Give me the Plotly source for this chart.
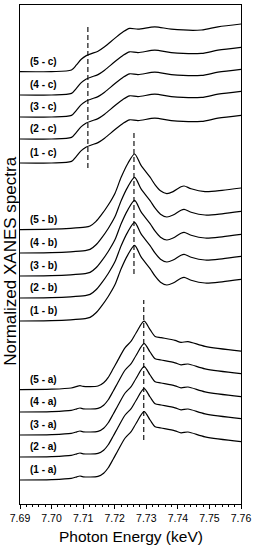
import plotly.graph_objects as go

# ---- data ----
energy_c = [7.690, 7.700, 7.7063, 7.7078, 7.7094, 7.7110, 7.7126, 7.7147, 7.7168,
            7.7200, 7.7226, 7.7247, 7.7274, 7.7327, 7.7379, 7.7474, 7.7527, 7.7600]
shape_c = [0.00, 0.00, 0.04, 0.16, 0.31, 0.40, 0.45, 0.51, 0.62,
           0.83, 0.99, 1.08, 1.06, 1.12, 1.06, 1.04, 1.12, 1.19]

energy_b = [7.690, 7.700, 7.706, 7.7106, 7.7122, 7.7140, 7.7157, 7.7180, 7.7201,
            7.7220, 7.7242, 7.7263, 7.7283, 7.7312, 7.7328, 7.7345, 7.7365, 7.7385,
            7.7410, 7.7420, 7.7442, 7.7486, 7.7540, 7.7600]
shape_b = [0.00, 0.01, 0.03, 0.06, 0.09, 0.20, 0.36, 0.62, 0.91,
           1.30, 1.66, 1.89, 1.61, 1.31, 1.12, 0.97, 0.90, 0.95,
           1.07, 1.09, 1.02, 0.95, 0.98, 1.04]

energy_a = [7.690, 7.700, 7.7062, 7.7080, 7.7090, 7.7100, 7.7147, 7.7165, 7.7179,
            7.7195, 7.7211, 7.7233, 7.7252, 7.7268, 7.7293, 7.7312, 7.7328, 7.7347,
            7.7391, 7.7410, 7.7432, 7.7486, 7.7600]
shape_a = [0.00, 0.01, 0.04, 0.08, 0.10, 0.08, 0.09, 0.17, 0.30,
           0.52, 0.75, 1.05, 1.21, 1.42, 1.71, 1.50, 1.33, 1.30,
           1.23, 1.18, 1.20, 1.08, 0.96]

labels_a = ["(1 - a)", "(2 - a)", "(3 - a)", "(4 - a)", "(5 - a)"]
labels_b = ["(1 - b)", "(2 - b)", "(3 - b)", "(4 - b)", "(5 - b)"]
labels_c = ["(1 - c)", "(2 - c)", "(3 - c)", "(4 - c)", "(5 - c)"]
offsets_a = [0.60, 1.175, 1.725, 2.30, 2.86]
offsets_b = [4.575, 5.15, 5.70, 6.275, 6.86]
offsets_c = [8.525, 9.125, 9.675, 10.225, 10.81]

# dashed markers: energy, y-start, y-end
edge_energy = [7.7292, 7.7261, 7.7115]
edge_y0 = [1.60, 5.75, 8.40]
edge_y1 = [5.10, 9.275, 11.925]

x_ticks = [7.69, 7.70, 7.71, 7.72, 7.73, 7.74, 7.75, 7.76]

FONT = "Arial, Liberation Sans, Helvetica, sans-serif"

fig = go.Figure()

groups = [(energy_a, shape_a, offsets_a, labels_a),
          (energy_b, shape_b, offsets_b, labels_b),
          (energy_c, shape_c, offsets_c, labels_c)]

for en, sh, offs, labs in groups:
    for off, lab in zip(offs, labs):
        fig.add_trace(go.Scatter(
            x=en, y=[v + off for v in sh], mode="lines",
            line=dict(color="black", width=1.2, shape="spline", smoothing=0.8),
            showlegend=False, hoverinfo="skip"))
        fig.add_annotation(x=7.6976, y=off + 0.26, xref="x", yref="y",
                           text="<b>" + lab + "</b>", showarrow=False,
                           font=dict(family=FONT, size=10, color="black"),
                           xanchor="center", yanchor="middle")

for e, y0, y1 in zip(edge_energy, edge_y0, edge_y1):
    fig.add_trace(go.Scatter(
        x=[e, e], y=[y0, y1], mode="lines",
        line=dict(color="black", width=1.1, dash="5px,3px"),
        showlegend=False, hoverinfo="skip"))

fig.add_annotation(x=-0.0407, y=0.4856, xref="paper", yref="paper",
                   text="Normalized XANES spectra", textangle=-90, showarrow=False,
                   font=dict(family=FONT, size=17, color="black"),
                   xanchor="center", yanchor="middle")
fig.add_annotation(x=0.5, y=-0.0661, xref="paper", yref="paper",
                   text="Photon Energy (keV)", showarrow=False,
                   font=dict(family=FONT, size=15.5, color="black"),
                   xanchor="center", yanchor="middle")

fig.update_layout(
    width=255, height=550,
    margin=dict(l=20, r=14, t=5, b=46),
    paper_bgcolor="white", plot_bgcolor="white",
    xaxis=dict(range=[7.69, 7.76], tickvals=x_ticks,
               ticktext=[f"{t:.2f}" for t in x_ticks],
               ticks="outside", ticklen=4, tickwidth=1, tickcolor="black",
               minor=dict(dtick=0.002, ticks="outside", ticklen=2, tickcolor="black"),
               showline=True, linecolor="black", linewidth=1, mirror=True,
               showgrid=False, zeroline=False,
               tickfont=dict(family=FONT, size=10.5, color="black")),
    yaxis=dict(range=[0, 12.475], showticklabels=False, ticks="",
               showline=True, linecolor="black", linewidth=1, mirror=True,
               showgrid=False, zeroline=False),
)

fig.write_html("out.html", config={"displayModeBar": False},
               post_script="document.body.style.margin='0';document.body.style.padding='0';")
